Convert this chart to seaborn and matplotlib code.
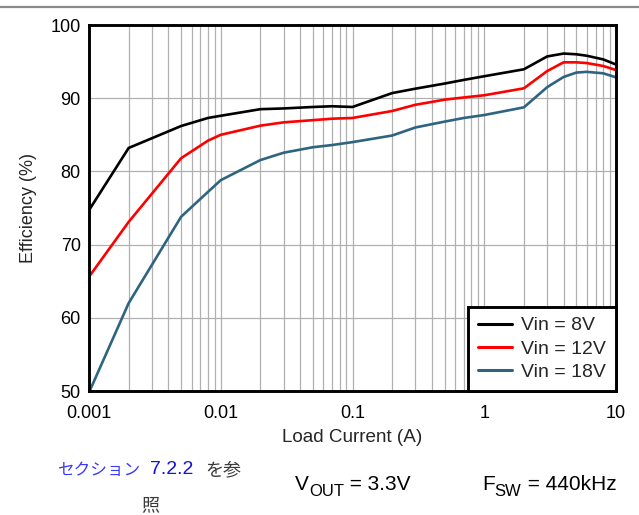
import numpy as np
import pandas as pd
import matplotlib
matplotlib.use("Agg")
import matplotlib.pyplot as plt
from matplotlib.lines import Line2D
import seaborn as sns

# Load current sweep (A)
current = [0.001, 0.002, 0.005, 0.008, 0.01, 0.02, 0.03, 0.05, 0.07, 0.1,
           0.2, 0.3, 0.5, 0.7, 1, 2, 3, 4, 5, 6, 8, 10]

# Efficiency (%) for each input voltage
eff_8v = [74.7, 83.2, 86.2, 87.3, 87.6, 88.5, 88.6, 88.8, 88.9, 88.8,
          90.7, 91.3, 92.0, 92.5, 93.0, 93.95, 95.7, 96.1, 96.0, 95.8, 95.3, 94.6]
eff_12v = [65.6, 73.1, 81.8, 84.2, 85.0, 86.25, 86.7, 87.0, 87.2, 87.3,
           88.25, 89.1, 89.8, 90.1, 90.4, 91.35, 93.7, 94.9, 94.9, 94.8, 94.4, 93.85]
eff_18v = [49.8, 62.0, 73.8, 77.2, 78.8, 81.55, 82.55, 83.3, 83.6, 84.0,
           84.9, 86.0, 86.8, 87.3, 87.7, 88.75, 91.5, 92.9, 93.5, 93.6, 93.4, 92.85]

series_names = ["Vin = 8V", "Vin = 12V", "Vin = 18V"]
series_colors = ["#000000", "#ff0000", "#2f6480"]

x_ticks = [0.001, 0.01, 0.1, 1, 10]
x_tick_labels = ["0.001", "0.01", "0.1", "1", "10"]
y_ticks = [50, 60, 70, 80, 90, 100]

df = pd.concat([
    pd.DataFrame({"current": current, "eff": vals, "series": name})
    for name, vals in zip(series_names, [eff_8v, eff_12v, eff_18v])
], ignore_index=True)

sns.set_theme(style="white")
plt.rcParams["font.family"] = ["Liberation Sans", "DejaVu Sans"]

W, H = 639, 515
fig = plt.figure(figsize=(W / 100, H / 100), dpi=100)
ax = fig.add_axes([89 / W, 124 / H, 527 / W, 366 / H])

sns.lineplot(data=df, x="current", y="eff", hue="series",
             hue_order=series_names, palette=series_colors,
             linewidth=1.9, ax=ax, legend=False, estimator=None, sort=False)

ax.set_xscale("log")
ax.set_xlim(0.001, 10)
ax.set_ylim(50, 100)
ax.set_xticks(x_ticks)
ax.set_xticklabels(x_tick_labels)
ax.set_yticks(y_ticks)
ax.xaxis.set_minor_locator(matplotlib.ticker.LogLocator(base=10, subs=np.arange(2, 10)))
ax.xaxis.set_minor_formatter(matplotlib.ticker.NullFormatter())

ax.grid(True, which="major", axis="both", color="#b0b0b0", linewidth=0.9)
ax.grid(True, which="minor", axis="x", color="#b0b0b0", linewidth=0.9)
ax.set_axisbelow(True)

for side in ["left", "right", "top", "bottom"]:
    ax.spines[side].set_visible(True)
    ax.spines[side].set_color("black")
    ax.spines[side].set_linewidth(2.1)

ax.tick_params(axis="both", which="both", length=0, labelsize=13,
               labelcolor="black")
ax.tick_params(axis="x", pad=10)
ax.tick_params(axis="y", pad=6)
ax.set_xlabel("Load Current (A)", fontsize=13.6, labelpad=5)
ax.set_ylabel("Efficiency (%)", fontsize=13, labelpad=10)

handles = [Line2D([0], [0], color=c, linewidth=2.2) for c in series_colors]
leg = ax.legend(handles, series_names, loc="lower right", fontsize=14,
                frameon=True, fancybox=False, borderaxespad=0,
                handlelength=1.75, handletextpad=0.5, labelspacing=0.3,
                borderpad=0.5)
leg.get_frame().set_edgecolor("black")
leg.get_frame().set_linewidth(2.1)
leg.get_frame().set_facecolor("white")
leg.get_frame().set_alpha(1)

# Rule across the top of the figure
fig.add_artist(Line2D([0, 1], [1 - 7 / H, 1 - 7 / H],
                      transform=fig.transFigure, color="#8a8a8a", linewidth=1.6))

fig.canvas.draw()
renderer = fig.canvas.get_renderer()


def put(x_px, y_px, s, **kw):
    """Place text at pixel coordinates (from top-left); return its right edge in px."""
    t = fig.text(x_px / W, 1 - y_px / H, s, **kw)
    return t.get_window_extent(renderer).x1


def subscripted(x_px, base_px, main, sub, rest, size, sub_size, drop):
    x = put(x_px, base_px, main, fontsize=size, va="baseline", color="black")
    x = put(x, base_px + drop, sub, fontsize=sub_size, va="baseline", color="black")
    put(x, base_px, rest, fontsize=size, va="baseline", color="black")


# Notes below the plot
jp = ["Noto Sans CJK JP", "DejaVu Sans"]
put(58, 470, "セクション", color="#3a3aff", fontsize=12, family=jp, va="center")
put(150, 470, "7.2.2", color="#1010e8", fontsize=14, va="center")
put(205, 470, "を参", color="#3a3a3a", fontsize=13, family=jp, va="center")
fig.text(150 / W, 1 - 505 / H, "照", color="#3a3a3a", fontsize=13,
         family=jp, va="center", ha="center")

subscripted(295, 490, "V", "OUT", " = 3.3V", 15, 12, 6)
subscripted(482, 490, "F", "SW", " = 440kHz", 15, 12, 6)

fig.savefig("out.png", dpi=100)
